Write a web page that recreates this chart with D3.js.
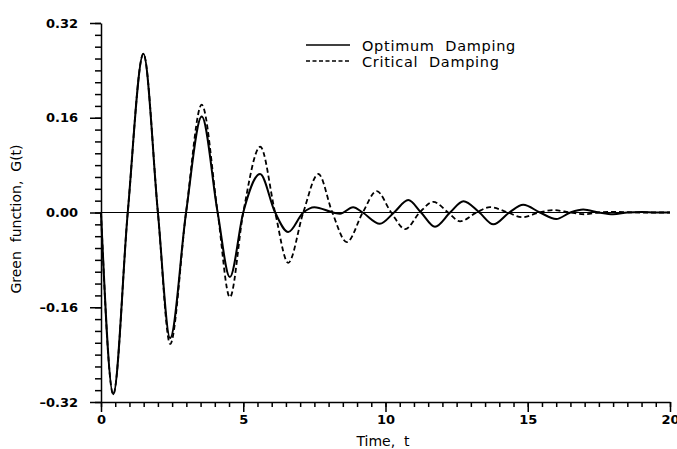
<!DOCTYPE html>
<html>
<head>
<meta charset="utf-8">
<script src="https://cdn.jsdelivr.net/npm/d3@7"></script>
<style>
  body { margin: 0; background: #fff; }
  svg { display: block; }
  .tick text { font-family: "DejaVu Sans", sans-serif; font-weight: bold; fill: #000; }
  .lbl { font-family: "DejaVu Sans", sans-serif; fill: #000; }
</style>
</head>
<body>
<div id="chart"></div>
<script>
// values: extrema and zero crossings of each curve
var optT = [0, 0.43, 0.94, 1.49, 2.0, 2.43, 2.99, 3.54, 4.1, 4.53, 5.0, 5.59, 6.12, 6.58, 7.11, 7.5, 8.16, 8.4, 8.86, 9.2, 9.8, 10.3, 10.8, 11.25, 11.74, 12.27, 12.74, 13.3, 13.79, 14.35, 14.84, 15.43, 16.0, 16.5, 16.95, 17.5, 18.0, 18.5, 19.0, 19.5, 20];
var optG = [0, -0.307, 0, 0.268, 0, -0.212, 0, 0.162, 0, -0.109, 0, 0.065, 0, -0.033, 0, 0.009, 0, -0.002, 0.009, 0, -0.019, 0, 0.021, 0, -0.024, 0, 0.019, 0, -0.020, 0, 0.013, 0, -0.011, 0, 0.005, 0, -0.003, 0, 0.001, 0, 0];

var critT = [0, 0.43, 0.94, 1.49, 2.0, 2.43, 2.99, 3.54, 4.1, 4.53, 5.0, 5.6, 6.12, 6.58, 7.11, 7.64, 8.13, 8.64, 9.2, 9.69, 10.2, 10.69, 11.2, 11.68, 12.2, 12.62, 13.2, 13.67, 14.3, 14.8, 15.4, 15.9, 16.5, 17.0, 17.5, 18.0, 19.0, 20];
var critG = [0, -0.307, 0, 0.268, 0, -0.222, 0, 0.182, 0, -0.143, 0, 0.111, 0, -0.085, 0, 0.065, 0, -0.050, 0, 0.036, 0, -0.028, 0, 0.018, 0, -0.015, 0, 0.009, 0, -0.008, 0, 0.004, 0, -0.003, 0, 0.001, 0, 0];

var xMajor = [0, 5, 10, 15, 20];
var yMajor = [-0.32, -0.16, 0, 0.16, 0.32];
var legendNames = ["Optimum  Damping", "Critical  Damping"];

var width = 677, height = 449;

var svg = d3.select("#chart")
  .append("svg")
    .attr("width", width)
    .attr("height", height);

var x = d3.scaleLinear().domain([0, 20]).range([101, 670]);
var y = d3.scaleLinear().domain([-0.32, 0.32]).range([402, 23]);

// minor ticks
svg.append("g")
    .attr("transform", "translate(0," + y(-0.32) + ")")
    .call(d3.axisBottom(x).tickValues(d3.range(0, 20.01, 0.5)).tickSize(5).tickFormat(""))
    .call(function(g) { g.select(".domain").remove(); })
    .selectAll("line").attr("stroke-width", 1.3);

svg.append("g")
    .attr("transform", "translate(" + x(0) + ",0)")
    .call(d3.axisLeft(y).tickValues(d3.range(-16, 17).map(function(d) { return d * 0.02; })).tickSize(6).tickFormat(""))
    .call(function(g) { g.select(".domain").remove(); })
    .selectAll("line").attr("stroke-width", 1.3);

// major axes
var xAxis = svg.append("g")
    .attr("transform", "translate(0," + y(-0.32) + ")")
    .call(d3.axisBottom(x).tickValues(xMajor).tickSize(10).tickSizeOuter(0).tickPadding(3).tickFormat(d3.format("d")));
xAxis.selectAll("text").style("font-size", "13px");

var yAxis = svg.append("g")
    .attr("transform", "translate(" + x(0) + ",0)")
    .call(d3.axisLeft(y).tickValues(yMajor).tickSize(11).tickSizeOuter(0).tickPadding(12)
      .tickFormat(function(d) { return d3.format(".2f")(d).replace("\u2212", "\u2013"); }));
yAxis.selectAll("text").style("font-size", "13px");

svg.selectAll(".domain, .tick line").attr("stroke", "#000").attr("stroke-width", 1.5);

// zero line
svg.append("line")
    .attr("x1", x(0)).attr("x2", x(20))
    .attr("y1", y(0)).attr("y2", y(0))
    .attr("stroke", "#000").attr("stroke-width", 1.2);

var line = d3.line()
    .x(function(d) { return x(d[0]); })
    .y(function(d) { return y(d[1]); })
    .curve(d3.curveMonotoneX);

svg.append("path")
    .datum(d3.zip(critT, critG))
    .attr("fill", "none")
    .attr("stroke", "#000")
    .attr("stroke-width", 1.8)
    .attr("stroke-dasharray", "5,3")
    .attr("d", line);

svg.append("path")
    .datum(d3.zip(optT, optG))
    .attr("fill", "none")
    .attr("stroke", "#000")
    .attr("stroke-width", 2)
    .attr("d", line);

// legend
var legend = svg.append("g");
legendNames.forEach(function(name, i) {
  legend.append("line")
      .attr("x1", 306).attr("x2", 350)
      .attr("y1", 45 + i * 16).attr("y2", 45 + i * 16)
      .attr("stroke", "#000")
      .attr("stroke-width", 1.3)
      .attr("stroke-dasharray", i === 0 ? null : "4,2.5");
  legend.append("text")
      .attr("class", "lbl")
      .attr("x", 362)
      .attr("y", 51 + i * 16)
      .style("font-size", "14.5px")
      .style("letter-spacing", "0.7px")
      .style("white-space", "pre")
      .text(name);
});

// axis titles
svg.append("text")
    .attr("class", "lbl")
    .attr("x", 383)
    .attr("y", 446)
    .attr("text-anchor", "middle")
    .style("font-size", "14px")
    .style("white-space", "pre")
    .text("Time,  t");

svg.append("text")
    .attr("class", "lbl")
    .attr("transform", "translate(21,219) rotate(-90)")
    .attr("text-anchor", "middle")
    .style("font-size", "14px")
    .style("white-space", "pre")
    .text("Green  function,  G(t)");
</script>
</body>
</html>
